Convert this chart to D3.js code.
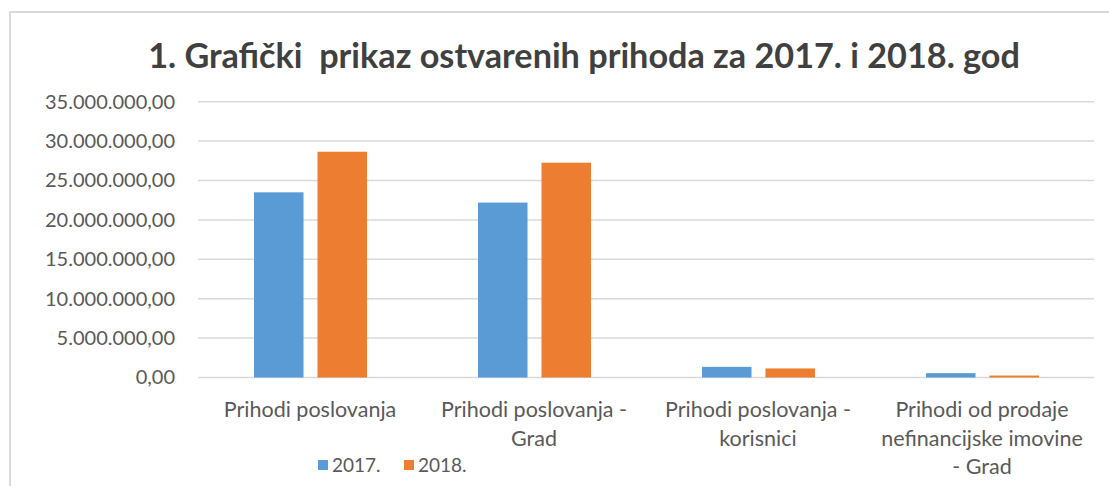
<!DOCTYPE html>
<html>
<head>
<meta charset="utf-8">
<script src="https://cdn.jsdelivr.net/npm/d3@7"></script>
<style>
  html, body { margin: 0; padding: 0; background: #fff; }
  svg { display: block; }
  text { font-family: Lato, "Open Sans", sans-serif; }
</style>
</head>
<body>
<svg id="chart" width="1109" height="486"></svg>
<script>
const titleText = "1. Grafički  prikaz ostvarenih prihoda za 2017. i 2018. god";
const categories = [
  "Prihodi poslovanja",
  "Prihodi poslovanja -\nGrad",
  "Prihodi poslovanja -\nkorisnici",
  "Prihodi od prodaje\nnefinancijske imovine\n- Grad"
];
const seriesNames = ["2017.", "2018."];
const values2017 = [23500000, 22200000, 1350000, 550000];
const values2018 = [28650000, 27260000, 1150000, 250000];
const yTicks = [0, 5000000, 10000000, 15000000, 20000000, 25000000, 30000000, 35000000];
const colors = ["#5b9bd5", "#ed7d31"];

const svg = d3.select("#chart");
const W = 1109, H = 486;
const plot = { left: 198, right: 1094, top: 101.7, bottom: 377.5 };

// frame
svg.append("path")
  .attr("d", `M10,${H} L10,12 L${W},12`)
  .attr("fill", "none").attr("stroke", "#d9d9d9").attr("stroke-width", 2);

// title
const title = svg.append("text")
  .attr("x", 584).attr("y", 68)
  .attr("text-anchor", "middle")
  .style("white-space", "pre")
  .attr("font-weight", "bold")
  .attr("font-size", 32)
  .attr("fill", "#404040")
  .text(titleText);
const tl = title.node().getComputedTextLength();
title.attr("font-size", 32 * 872 / tl);

const y = d3.scaleLinear().domain([0, 35000000]).range([plot.bottom, plot.top]);
const x0 = d3.scaleBand().domain(categories).range([plot.left, plot.right]).padding(0);
const x1 = d3.scaleBand().domain(seriesNames).range([56, 169]).paddingInner(0.22);

const fmt = v => {
  const s = d3.format(",.2f")(v);
  return s.replace(/,/g, "#").replace(".", ",").replace(/#/g, ".");
};

// gridlines
svg.append("g").selectAll("line").data(yTicks).join("line")
  .attr("x1", plot.left).attr("x2", plot.right)
  .attr("y1", d => y(d)).attr("y2", d => y(d))
  .attr("stroke", "#d9d9d9").attr("stroke-width", 1.5);

// y axis labels
const yAxis = d3.axisLeft(y).tickValues(yTicks).tickFormat(fmt).tickSize(0).tickPadding(0);
const ya = svg.append("g").attr("transform", "translate(175,0)").call(yAxis);
ya.select(".domain").remove();
ya.selectAll("text")
  .attr("font-family", "Lato, sans-serif")
  .attr("font-size", 20)
  .attr("fill", "#595959");

// bars
const data = categories.map((c, i) => ({ cat: c, vals: [values2017[i], values2018[i]] }));
const groups = svg.append("g").selectAll("g").data(data).join("g")
  .attr("transform", d => `translate(${x0(d.cat)},0)`);
groups.selectAll("rect").data(d => d.vals.map((v, k) => ({ s: seriesNames[k], v, k })))
  .join("rect")
  .attr("x", d => x1(d.s))
  .attr("width", x1.bandwidth())
  .attr("y", d => y(d.v))
  .attr("height", d => y(0) - y(d.v))
  .attr("fill", d => colors[d.k]);

// x labels
const xl = svg.append("g");
categories.forEach(c => {
  const lines = c.split("\n");
  const t = xl.append("text")
    .attr("x", x0(c) + x0.bandwidth() / 2)
    .attr("y", 417)
    .attr("text-anchor", "middle")
    .attr("font-size", 21.5)
    .attr("fill", "#595959");
  lines.forEach((ln, i) => {
    t.append("tspan").attr("x", x0(c) + x0.bandwidth() / 2).attr("dy", i === 0 ? 0 : 28.5).text(ln);
  });
});

// legend
const leg = svg.append("g");
const legX = [318, 404];
seriesNames.forEach((s, i) => {
  leg.append("rect").attr("x", legX[i]).attr("y", 460).attr("width", 10).attr("height", 10).attr("fill", colors[i]);
  leg.append("text").attr("x", legX[i] + 14).attr("y", 472)
    .attr("font-size", 19).attr("fill", "#595959").text(s);
});
</script>
</body>
</html>
